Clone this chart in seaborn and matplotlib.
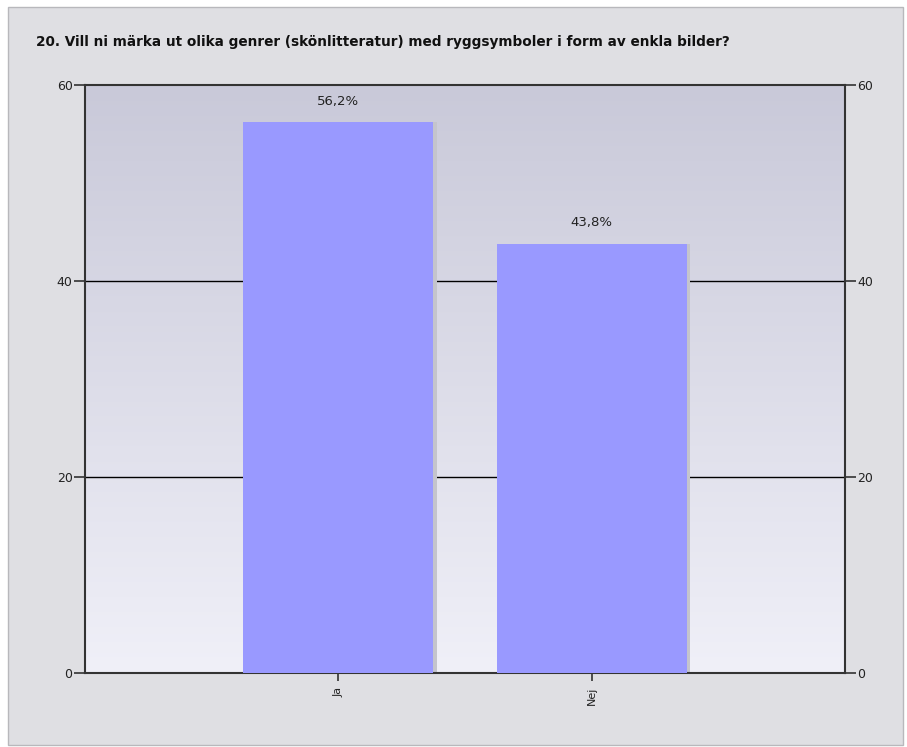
"""Bar chart: genre spine symbols survey question."""

import matplotlib
matplotlib.use("Agg")
import matplotlib.pyplot as plt
import numpy as np
import pandas as pd
import seaborn as sns
from matplotlib.patches import Rectangle

TITLE = "20. Vill ni märka ut olika genrer (skönlitteratur) med ryggsymboler i form av enkla bilder?"
categories = ["Ja", "Nej"]
percentages = [56.2, 43.8]
value_labels = ["56,2%", "43,8%"]
y_ticks = [0, 20, 40, 60]

BAR_COLOR = "#9999ff"
FIG_BG = "#dfdfe3"

sns.set_theme(style="white")
plt.rcParams["font.family"] = ["DejaVu Sans"]

W, H = 907, 747
fig = plt.figure(figsize=(W / 100, H / 100), dpi=100, facecolor="white")
fig.patches.append(Rectangle((8 / W, 2 / H), 895 / W, 738 / H, transform=fig.transFigure,
                             facecolor=FIG_BG, edgecolor="#b8b8bc", linewidth=1, zorder=-10))

ax = fig.add_axes([85 / W, 1 - 673 / H, 760 / W, 588 / H])
ax.set_facecolor("none")

# vertical gradient background
grad = np.linspace(0, 1, 256).reshape(-1, 1)
top = np.array([201, 201, 217]) / 255
bottom = np.array([240, 240, 248]) / 255
img = top + (bottom - top) * grad[:, :, None]
ax.imshow(img, extent=[-1, 2, 0, 60], aspect="auto", origin="upper", zorder=0)

for yv in [20, 40]:
    ax.axhline(yv, color="black", linewidth=1, zorder=1)

df = pd.DataFrame({"svar": categories, "procent": percentages})

# soft shadow to the right of each bar
ax.bar(np.arange(len(categories)) + 0.015, df["procent"], width=0.75,
       color="#c4c4cc", zorder=2, linewidth=0)
sns.barplot(data=df, x="svar", y="procent", color=BAR_COLOR, saturation=1,
            width=0.75, ax=ax, zorder=3, linewidth=0)

for i, (v, lab) in enumerate(zip(percentages, value_labels)):
    ax.text(i, v + 1.5, lab, ha="center", va="bottom", fontsize=9.5, color="#222222", zorder=4)

ax.set_xlim(-1, 2)
ax.set_ylim(0, 60)
ax.set_yticks(y_ticks)
ax.set_xlabel("")
ax.set_ylabel("")
ax.set_xticks(range(len(categories)))
ax.set_xticklabels(categories, rotation=90, fontsize=8, color="#222222")

for side in ["left", "right", "top", "bottom"]:
    ax.spines[side].set_visible(True)
    ax.spines[side].set_color("#333333")
    ax.spines[side].set_linewidth(1.5)

ax.tick_params(axis="y", which="both", left=True, right=True, labelleft=True, labelright=True,
               length=8, width=1.2, color="#333333", labelsize=9, labelcolor="#222222", pad=1)
ax.tick_params(axis="x", bottom=True, length=6, width=1.2, color="#333333", pad=4)

fig.text(36 / W, 1 - 42 / H, TITLE, fontsize=9.8, fontweight="bold", color="#111111",
         ha="left", va="center")

fig.savefig("out.png", dpi=100, facecolor="white")
